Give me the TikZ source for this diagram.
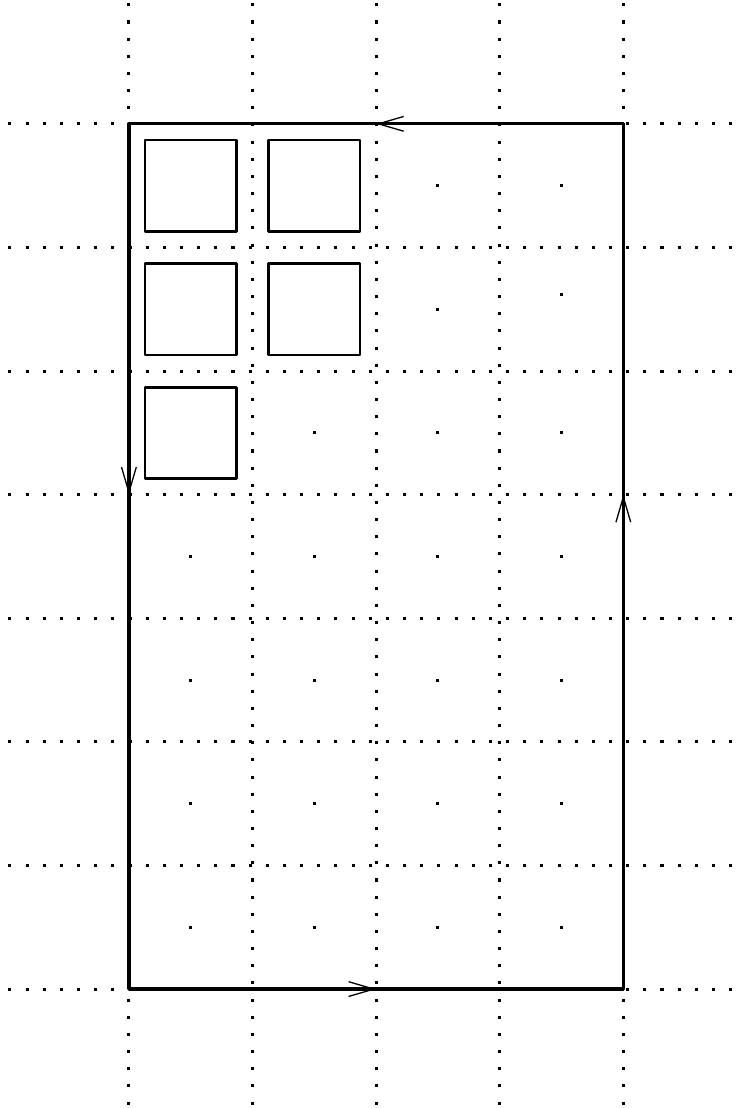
\documentclass[tikz,border=0pt]{standalone}
\usetikzlibrary{arrows.meta}
\begin{document}
\begin{tikzpicture}[x=1cm,y=1cm,
  gridline/.style={line width=0.7pt, dash pattern=on 0.7pt off 3.25pt},
  border/.style={line width=0.75pt, line join=round},
  tile/.style={line width=0.65pt, line join=round},
  barb/.style={-{Straight Barb[length=5.8pt,width=3.4pt,line width=0.3pt]}},
  cdot/.style={fill=black, minimum size=0.7pt, inner sep=0pt, shape=rectangle}]
\useasboundingbox (-1.043,-0.962) rectangle (4.988,8.002);
% dotted grid
\foreach \x in {0,...,4} \draw[gridline] (\x,7.975) -- (\x,-0.962);
\foreach \y in {0,...,7} \draw[gridline] (-0.975,\y) -- (4.988,\y);
% centre dots
\foreach \c/\r in {2/0,3/0,2/1,1/2,2/2,3/2,0/3,1/3,2/3,3/3,0/4,1/4,2/4,3/4,0/5,1/5,2/5,3/5,0/6,1/6,2/6,3/6}
  \node[cdot] (d\c\r) at (\c+0.5,6.5-\r) {};
\node[cdot] (d31) at (3.5,5.62) {};
% tiles
\foreach \c/\r in {0/0,1/0,0/1,1/1,0/2}
  \draw[tile] (\c+0.13,7-\r-0.13) rectangle (\c+0.87,7-\r-0.87);
% border with direction arrows
\coordinate (tr) at (4,7);
\coordinate (tl) at (0,7);
\coordinate (bl) at (0,0);
\coordinate (br) at (4,0);
\coordinate (tm) at (2,7);
\coordinate (lm) at (0,4);
\coordinate (bm) at (2,0);
\coordinate (rm) at (4,4);
\draw[border] (tl) rectangle (br);
\draw[border,barb] (tr) -- (tm);
\draw[border,barb] (tl) -- (lm);
\draw[border,barb] (bl) -- (bm);
\draw[border,barb] (br) -- (rm);
\end{tikzpicture}
\end{document}
